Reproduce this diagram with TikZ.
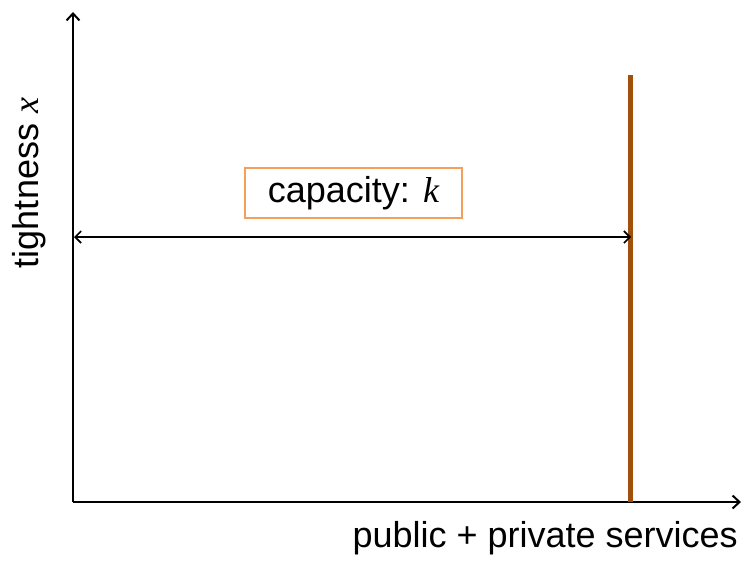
\documentclass[tikz,border=0pt]{standalone}
\usepackage{fontspec}
\setmainfont{Liberation Sans}
\newfontfamily\varfont{Liberation Serif}
\newcommand{\var}[1]{{\varfont\itshape #1}}
\usetikzlibrary{arrows.meta}
\definecolor{brownbar}{HTML}{A0500A}
\definecolor{boxorange}{HTML}{F5A05A}
\begin{document}
\begin{tikzpicture}[x=1pt,y=-1pt,
  axis/.style={line width=2.2pt,-{Straight Barb[length=7pt,width=13pt,line width=2pt]}},
  dbl/.style={line width=1.8pt,{Straight Barb[length=6pt,width=12pt,line width=1.6pt]}-{Straight Barb[length=6pt,width=12pt,line width=1.6pt]}},
  lbl/.style={font=\fontsize{36}{42}\selectfont,inner sep=0pt}]
\useasboundingbox (0,0) rectangle (749,560);
\coordinate (O) at (73,502);
\coordinate (ytop) at (73,12);
\coordinate (xend) at (741,502);
\coordinate (ltop) at (630,75);
\coordinate (lbot) at (630,502);
\coordinate (al) at (74,237);
\coordinate (ar) at (631,237);
\draw[axis] (O) -- (ytop);
\draw[axis] (O) -- (xend);
\draw[brownbar,line width=5pt] (lbot) -- (ltop);
\draw[dbl] (al) -- (ar);
\node[lbl,draw=boxorange,line width=1.4pt,minimum width=217pt,minimum height=50pt] (cap) at (353.5,193) {capacity: \var{k}};
\node[lbl,rotate=90] (ylab) at (29,183) {tightness \var{x}};
\node[lbl,anchor=east] (xlab) at (738,538) {public + private services};
\end{tikzpicture}
\end{document}
